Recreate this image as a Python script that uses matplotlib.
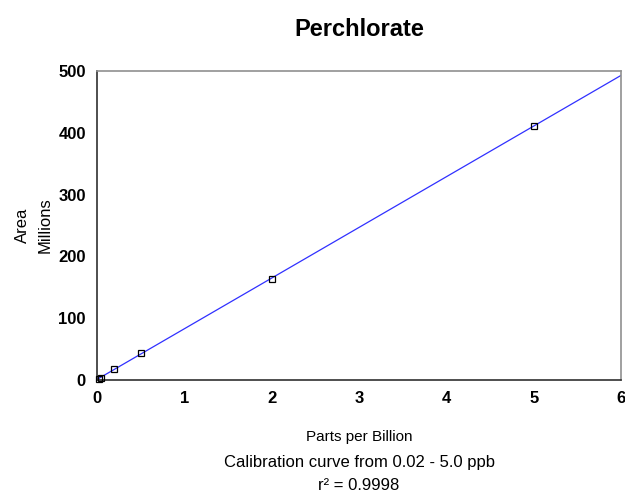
import numpy as np
import matplotlib
matplotlib.use("Agg")
import matplotlib.pyplot as plt

conc_ppb = [0.02, 0.05, 0.2, 0.5, 2.0, 5.0]
area_millions = [1.5, 4.0, 18.0, 44.0, 164.0, 411.0]
x_ticks = [0, 1, 2, 3, 4, 5, 6]
y_ticks = [0, 100, 200, 300, 400, 500]

plt.rcParams['font.family'] = ['Liberation Sans Narrow', 'Liberation Sans', 'DejaVu Sans']

fig = plt.figure(figsize=(6.25, 4.95), dpi=100)
ax = fig.add_axes([97/625, 1-380/495, (621-97)/625, (380-71)/495])

coef = np.polyfit(conc_ppb, area_millions, 1)
xl = np.array([0, 6])
ax.plot(xl, np.polyval(coef, xl), color='#3030ff', lw=0.9, zorder=2)
ax.plot(conc_ppb, area_millions, ls='none', marker='s', ms=5, mfc='none',
        mec='black', mew=0.9, zorder=3, clip_on=False)

ax.set_xlim(0, 6)
ax.set_ylim(0, 500)
ax.set_xticks(x_ticks)
ax.set_yticks(y_ticks)
ax.tick_params(length=0, pad=8)
for lab in ax.get_xticklabels() + ax.get_yticklabels():
    lab.set_fontweight('bold')
    lab.set_fontsize(12)
for s in ['left', 'bottom']:
    ax.spines[s].set_color('#303030')
    ax.spines[s].set_linewidth(1.2)
for s in ['top', 'right']:
    ax.spines[s].set_color('#909090')
    ax.spines[s].set_linewidth(1.2)

reg = ['Liberation Sans', 'DejaVu Sans']
fig.text(359/625, 1-30/495, 'Perchlorate', ha='center', va='center',
         fontsize=17, fontweight='bold')
fig.text(22/625, 1-225/495, 'Area', rotation=90, ha='center', va='center',
         fontsize=12, family=reg)
fig.text(45/625, 1-225/495, 'Millions', rotation=90, ha='center', va='center',
         fontsize=12, family=reg)
fig.text(359/625, 1-437/495, 'Parts per Billion', ha='center', va='center',
         fontsize=11, family=reg)
fig.text(359/625, 1-463/495, 'Calibration curve from 0.02 - 5.0 ppb', ha='center',
         va='center', fontsize=12, family=reg)
fig.text(359/625, 1-485/495, 'r\u00b2 = 0.9998', ha='center', va='center',
         fontsize=12, family=reg)

fig.savefig('out.png', dpi=100)
